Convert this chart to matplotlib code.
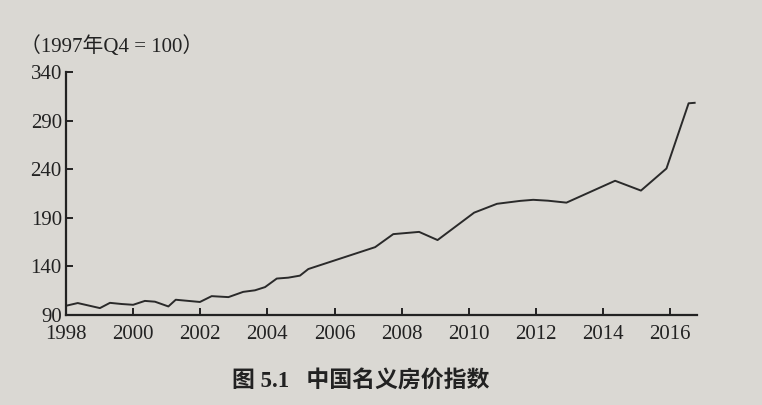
import matplotlib
matplotlib.use("Agg")
import matplotlib.pyplot as plt

# Data (year, index with 1997Q4 = 100)
years = [1998.0, 1998.35, 1999.01, 1999.31, 1999.66, 2000.0, 2000.35, 2000.65,
         2001.05, 2001.27, 2001.99, 2002.34, 2002.84, 2003.28, 2003.63, 2003.93,
         2004.28, 2004.62, 2004.97, 2005.22, 2007.21, 2007.75, 2008.52, 2009.07,
         2010.16, 2010.84, 2011.53, 2011.92, 2012.36, 2012.91, 2014.36, 2015.13,
         2015.89, 2016.55, 2016.73]
index_values = [99.5, 102.3, 97.1, 102.5, 101.3, 100.5, 104.5, 103.7,
                98.8, 105.7, 103.4, 109.4, 108.4, 113.8, 115.4, 118.7,
                127.5, 128.4, 130.5, 137.3, 159.8, 173.2, 175.5, 167.1,
                195.3, 204.4, 207.4, 208.5, 207.6, 205.6, 228.1, 218.0,
                240.7, 307.8, 308.3]
x_ticks = [1998, 2000, 2002, 2004, 2006, 2008, 2010, 2012, 2014, 2016]
y_ticks = [90, 140, 190, 240, 290, 340]
unit_label = "（1997年Q4 = 100）"
caption = "图 5.1   中国名义房价指数"

fam = ['Liberation Serif', 'Noto Sans CJK SC', 'DejaVu Sans']
plt.rcParams['font.family'] = fam

bg = '#dad8d3'
fig = plt.figure(figsize=(7.62, 4.05), dpi=100, facecolor=bg)
ax = fig.add_axes([66/762, 1 - 315/405, 631/762, 243/405], facecolor=bg)

ax.plot(years, index_values, color='#2a2a2a', lw=1.4)

ax.set_xlim(1998, 2016.8)
ax.set_ylim(90, 340)
ax.set_xticks(x_ticks)
ax.set_yticks(y_ticks)
ax.set_xticklabels([str(v) for v in x_ticks])
ax.set_yticklabels([str(v) for v in y_ticks])

for s in ['top', 'right']:
    ax.spines[s].set_visible(False)
for s in ['left', 'bottom']:
    ax.spines[s].set_linewidth(1.6)
    ax.spines[s].set_color('#222222')

ax.tick_params(axis='both', direction='in', length=5, width=1.4,
               colors='#222222', labelsize=15)
ax.tick_params(axis='y', pad=3)
ax.tick_params(axis='x', pad=7)
for lab in ax.get_xticklabels() + ax.get_yticklabels():
    lab.set_color('#222222')

fig.text(20/762, 1 - 47/405, unit_label, fontsize=15, color='#222222',
         ha='left', va='center', family=fam)
fig.text(361/762, 1 - 381/405, caption, fontsize=16.5, fontweight='bold',
         color='#222222', ha='center', va='center', family=fam)

fig.savefig('out.png', dpi=100, facecolor=bg)
